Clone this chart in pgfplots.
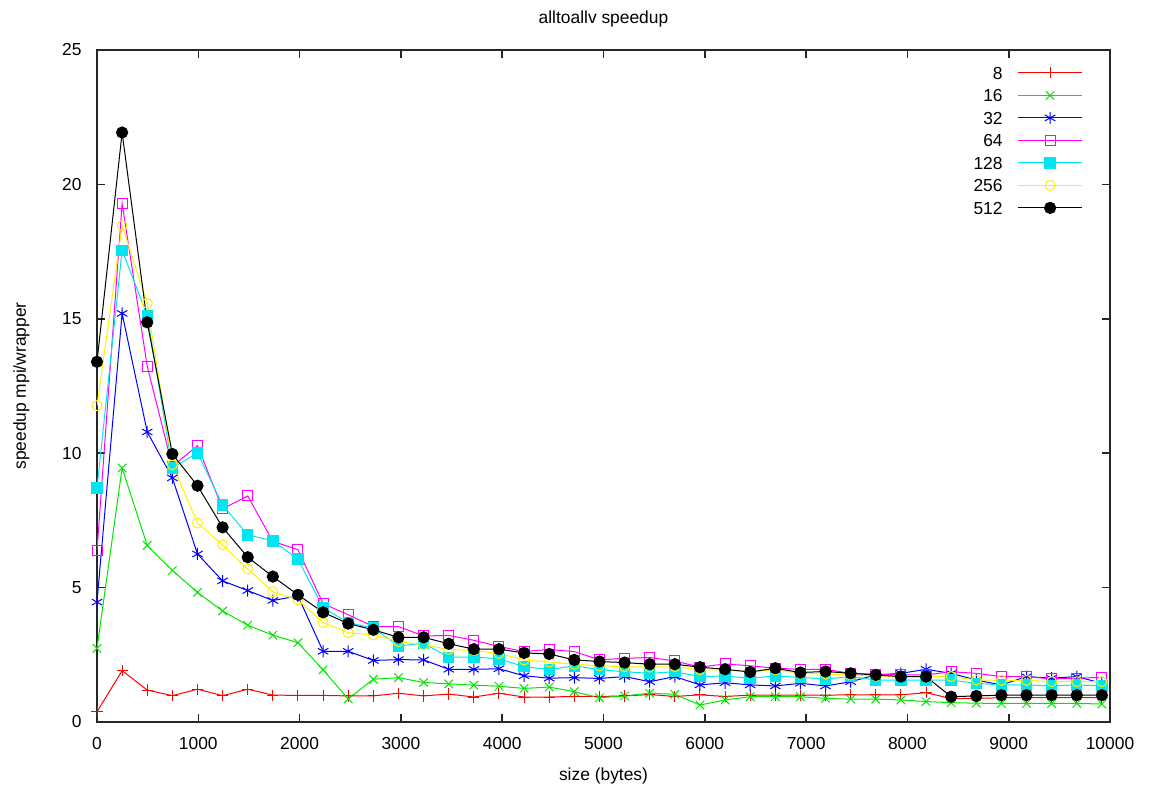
\documentclass[border=0pt]{standalone}
\usepackage{fontspec}
\setmainfont{Liberation Sans}
\usepackage{pgfplots}
\usepackage{pgfplotstable}
\pgfplotsset{compat=1.18}
\definecolor{gpred}{RGB}{255,0,0}
\definecolor{gpgreen}{RGB}{0,230,0}
\definecolor{gpblue}{RGB}{0,0,255}
\definecolor{gpmagenta}{RGB}{255,0,255}
\definecolor{gpcyan}{RGB}{0,230,240}
\definecolor{gpyellow}{RGB}{255,240,0}
\definecolor{gpblack}{RGB}{0,0,0}

\pgfplotstableread{
x s8 s16 s32 s64 s128 s256 s512
0 0.38 2.74 4.46 6.38 8.70 11.77 13.40
248 1.91 9.45 15.20 19.29 17.55 18.47 21.93
496 1.19 6.57 10.79 13.23 15.13 15.57 14.87
744 0.98 5.64 9.08 9.51 9.45 9.57 9.97
992 1.22 4.82 6.25 10.28 10.01 7.40 8.79
1240 0.98 4.13 5.25 7.93 8.07 6.59 7.24
1488 1.22 3.60 4.89 8.41 6.96 5.69 6.13
1736 1.00 3.23 4.52 6.72 6.74 4.85 5.41
1984 0.99 2.95 4.69 6.41 6.06 4.54 4.73
2232 0.99 1.94 2.63 4.40 4.25 3.70 4.08
2480 0.97 0.86 2.63 3.99 3.70 3.32 3.66
2728 0.97 1.59 2.29 3.55 3.49 3.24 3.43
2976 1.07 1.65 2.32 3.55 2.83 2.99 3.15
3224 0.97 1.47 2.31 3.20 2.93 2.87 3.15
3472 1.04 1.42 1.96 3.22 2.41 2.70 2.91
3720 0.93 1.37 1.96 3.04 2.42 2.66 2.71
3968 1.07 1.33 1.98 2.81 2.35 2.55 2.71
4216 0.93 1.25 1.72 2.62 2.06 2.31 2.57
4464 0.93 1.30 1.63 2.70 1.95 2.23 2.53
4712 0.95 1.13 1.65 2.62 2.09 2.15 2.31
4960 0.95 0.90 1.62 2.31 1.95 2.09 2.25
5208 0.97 0.97 1.69 2.37 1.87 2.06 2.21
5456 1.02 1.07 1.50 2.40 1.81 2.04 2.15
5704 0.95 1.03 1.69 2.27 1.87 2.06 2.15
5952 1.01 0.63 1.38 2.04 1.69 1.94 2.04
6200 0.95 0.82 1.46 2.16 1.71 1.94 1.96
6448 1.00 0.94 1.38 2.09 1.63 1.87 1.86
6696 1.00 0.94 1.34 2.00 1.71 1.94 2.00
6944 1.00 0.94 1.44 1.96 1.66 1.81 1.84
7192 1.00 0.88 1.34 1.96 1.60 1.78 1.88
7440 1.01 0.85 1.50 1.81 1.69 1.75 1.81
7688 1.01 0.85 1.75 1.78 1.56 1.71 1.75
7936 1.01 0.82 1.81 1.75 1.56 1.69 1.69
8184 1.09 0.76 1.96 1.75 1.56 1.68 1.69
8432 0.87 0.72 1.81 1.87 1.56 1.69 0.94
8680 0.88 0.70 1.56 1.81 1.44 1.56 0.97
8928 0.90 0.69 1.38 1.69 1.38 1.55 1.00
9176 0.91 0.69 1.69 1.69 1.38 1.55 1.00
9424 0.91 0.69 1.63 1.60 1.34 1.50 1.00
9672 0.91 0.69 1.69 1.63 1.38 1.50 1.00
9920 0.90 0.67 1.44 1.66 1.34 1.50 1.00
}\datatable

\begin{document}
\begin{tikzpicture}
\useasboundingbox (0,0) rectangle (576pt,396.5pt);
\begin{axis}[
  at={(48.5pt,35.5pt)}, anchor=south west,
  scale only axis, width=506.5pt, height=336pt,
  xmin=0, xmax=10000, ymin=0, ymax=25,
  xtick={0,1000,...,10000}, ytick={0,5,...,25},
  scaled ticks=false,
  /pgf/number format/set thousands separator={},
  /pgf/number format/assume math mode=true,
  font=\fontsize{8.7}{10.4}\selectfont,
  axis line style={black!85, line width=0.8pt},
  tick style={black!85, line width=0.8pt},
  tick align=inside, major tick length=4pt,
  xticklabel style={inner sep=0pt, yshift=-7.5pt},
  yticklabel style={inner sep=0pt, xshift=-7.5pt},
  every axis title shift=0pt,
  title={alltoallv speedup},
  title style={at={(rel axis cs:0.5,1.0387)}, anchor=base, inner sep=0pt, yshift=0pt},
  xlabel={size (bytes)},
  xlabel style={at={(rel axis cs:0.5,-0.0878)}, anchor=base, inner sep=0pt},
  ylabel={speedup mpi/wrapper},
  ylabel style={at={(rel axis cs:-0.0701,0.5)}, anchor=base, inner sep=0pt},
  legend plot pos=right,
  legend cell align=right,
  legend image code/.code={\draw[mark repeat=2,mark phase=2] plot coordinates {(0pt,0pt) (16pt,0pt) (32pt,0pt)};},
  legend style={at={(rel axis cs:1,1)}, anchor=north east, xshift=-13.5pt, yshift=-8pt,
    draw=none, fill=none, inner sep=0pt, row sep=4.75pt, column sep=7.5pt,
    nodes={inner sep=0pt, text height=6.5pt, text depth=0pt}},
  every axis plot/.append style={line width=0.5pt},
]
\addplot[color=gpred, mark=+, mark size=2.8pt] table[x=x,y=s8] {\datatable};
\addlegendentry{8}
\addplot[color=gpgreen, mark=x, mark size=3pt] table[x=x,y=s16] {\datatable};
\addlegendentry{16}
\addplot[color=gpblue, mark=asterisk, mark size=3pt] table[x=x,y=s32] {\datatable};
\addlegendentry{32}
\addplot[color=gpmagenta, mark=square, mark size=2.5pt] table[x=x,y=s64] {\datatable};
\addlegendentry{64}
\addplot[color=gpcyan, mark=square*, mark options={fill=gpcyan}, mark size=2.6pt] table[x=x,y=s128] {\datatable};
\addlegendentry{128}
\addplot[color=gpyellow, mark=o, mark size=2.5pt] table[x=x,y=s256] {\datatable};
\addlegendentry{256}
\addplot[color=gpblack, mark=*, mark options={fill=gpblack}, mark size=2.8pt] table[x=x,y=s512] {\datatable};
\addlegendentry{512}
\end{axis}
\end{tikzpicture}
\end{document}
